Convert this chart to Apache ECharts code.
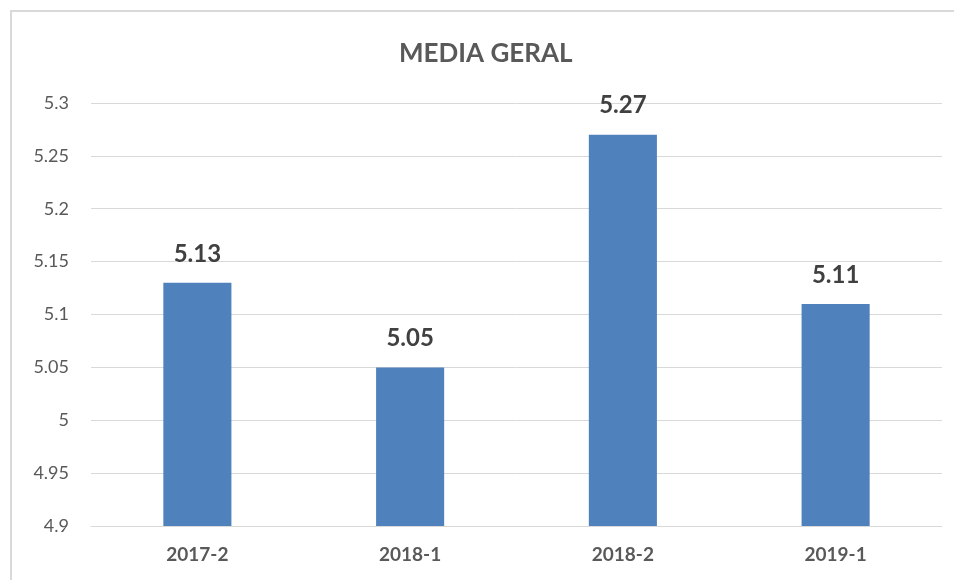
<!DOCTYPE html>
<html>
<head>
<meta charset="utf-8">
<script src="https://cdn.jsdelivr.net/npm/echarts@6/dist/echarts.min.js"></script>
<style>
  html, body { margin: 0; padding: 0; background: #fff; }
  #chart { width: 954px; height: 580px; }
</style>
</head>
<body>
<div id="chart"></div>
<script>
const categories = ["2017-2", "2018-1", "2018-2", "2019-1"];
const mediaValues = [5.13, 5.05, 5.27, 5.11];
const yTicks = [4.9, 4.95, 5, 5.05, 5.1, 5.15, 5.2, 5.25, 5.3];

const fontFamily = "Lato, 'Open Sans', sans-serif";

const chart = echarts.init(document.getElementById("chart"));
chart.setOption({
  animation: false,
  title: {
    text: "MEDIA GERAL",
    left: 394,
    top: 36,
    textStyle: {
      fontFamily,
      fontSize: 26,
      fontWeight: "bold",
      color: "#595959",
    },
  },
  graphic: [
    {
      type: "rect",
      shape: { x: 11, y: 11, width: 980, height: 620 },
      style: { fill: "none", stroke: "#D9D9D9", lineWidth: 2 },
      silent: true,
    },
  ],
  grid: {
    left: 91,
    right: 12,
    top: 103,
    bottom: 54,
  },
  xAxis: {
    type: "category",
    data: categories,
    axisLine: { lineStyle: { color: "#D9D9D9" } },
    axisTick: { show: false },
    axisLabel: {
      margin: 19,
      fontFamily,
      fontSize: 19,
      fontWeight: "bold",
      color: "#595959",
    },
  },
  yAxis: {
    type: "value",
    min: yTicks[0],
    max: yTicks[yTicks.length - 1],
    interval: 0.05,
    axisLine: { show: false },
    axisTick: { show: false },
    axisLabel: {
      margin: 22,
      fontFamily,
      fontSize: 18,
      color: "#595959",
      formatter: (v) => String(Math.round(v * 100) / 100),
    },
    splitLine: { lineStyle: { color: "#D9D9D9", width: 1 } },
  },
  series: [
    {
      name: "MEDIA GERAL",
      type: "bar",
      data: mediaValues,
      barWidth: "32%",
      itemStyle: { color: "#4F81BD" },
      label: {
        show: true,
        position: "top",
        distance: 17,
        fontFamily,
        fontSize: 24,
        fontWeight: "bold",
        color: "#404040",
        formatter: (p) => p.value.toFixed(2),
      },
    },
  ],
});
</script>
</body>
</html>
